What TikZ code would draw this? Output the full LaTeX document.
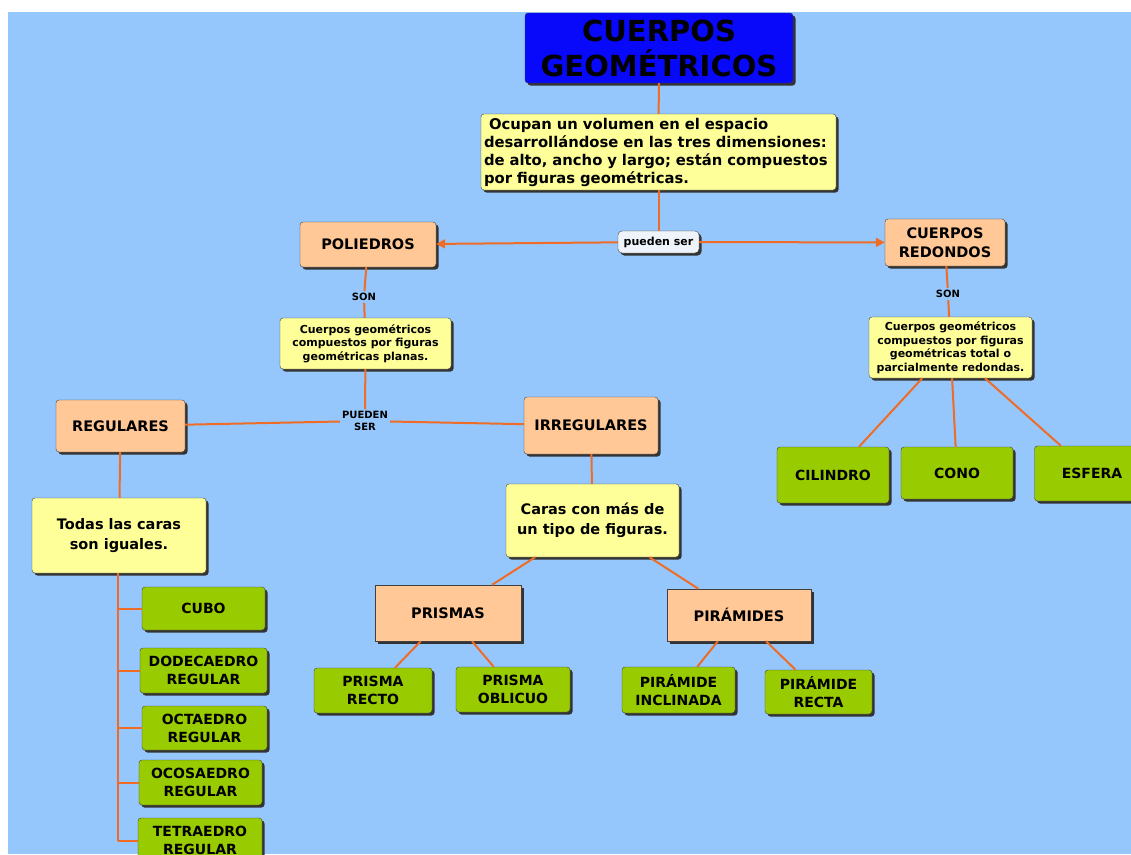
\documentclass[tikz,border=0pt]{standalone}
\usepackage{fontspec}
\setmainfont{DejaVu Sans}
\usetikzlibrary{arrows.meta,shadows}

\definecolor{fondo}{RGB}{150,199,252}
\definecolor{azul}{RGB}{8,8,250}
\definecolor{amarillo}{RGB}{255,255,153}
\definecolor{melocoton}{RGB}{255,200,150}
\definecolor{verde}{RGB}{153,204,0}
\definecolor{naranja}{RGB}{238,108,38}
\definecolor{nube}{RGB}{238,244,250}

\begin{document}
\begin{tikzpicture}[
        x=1pt, y=-1pt,
        medida/.style 2 args={minimum width=#1pt, minimum height=#2pt},
        caja/.style={draw=black!75, thin, rounded corners=3pt, align=center, inner sep=0pt,
            drop shadow={shadow xshift=2.5pt, shadow yshift=-2.5pt, fill=black!80, opacity=1}},
        caja_titulo/.style={caja, fill=azul, font=\fontsize{29}{35}\selectfont\bfseries},
        caja_texto/.style={caja, fill=amarillo},
        caja_tipo/.style={caja, fill=melocoton, font=\fontsize{14.5}{19}\selectfont\bfseries},
        caja_cuerpo/.style={caja, fill=verde, font=\fontsize{14}{18}\selectfont\bfseries},
        caja_enlace/.style={caja, fill=nube, rounded corners=4pt, font=\fontsize{11}{13}\selectfont\bfseries},
        etiqueta/.style={align=center, inner sep=2pt, font=\fontsize{10}{12}\selectfont\bfseries},
        linea/.style={draw=naranja, line width=2pt},
        flecha/.style={linea, -{Triangle[length=9pt, width=9pt]}}
        ]
    \useasboundingbox (0,0) rectangle (1131,854);
    \clip (0,0) rectangle (1131,854);
    \fill[fondo] (8,12) rectangle (1131,854);

    % cabecera
    \node[caja_titulo, medida={268}{70}] (titulo) at (659,48) {CUERPOS\\GEOMÉTRICOS};
    \node[caja_texto, medida={355}{76}, text width=349pt, align=left, font=\fontsize{14.8}{18}\selectfont\bfseries]
        (descr) at (658.5,152) {\hspace*{5pt}Ocupan un volumen en el espacio\\desarrollándose en las tres dimensiones:\\de alto, ancho y largo; están compuestos\\por figuras geométricas.};
    \node[caja_enlace, medida={81}{22}] (pueden) at (658.5,242) {pueden ser};

    % poliedros
    \node[caja_tipo, medida={136}{45}] (poliedros) at (368,244.5) {POLIEDROS};
    \node[etiqueta] (son_poli) at (364,297) {SON};
    \node[caja_texto, medida={171}{51}, font=\fontsize{11}{13.5}\selectfont\bfseries]
        (desc_poli) at (365.5,343.5) {Cuerpos geométricos\\compuestos por figuras\\geométricas planas.};
    \node[etiqueta] (pueden_poli) at (365,421) {PUEDEN\\SER};
    \node[caja_tipo, medida={129}{52}] (regulares) at (120.5,426) {REGULARES};
    \node[caja_tipo, medida={134}{57}] (irregulares) at (591,425.5) {IRREGULARES};

    \node[caja_texto, medida={174}{75}, font=\fontsize{14.5}{20}\selectfont\bfseries]
        (todas) at (119,535.5) {Todas las caras\\son iguales.};
    \node[caja_cuerpo, medida={123}{43}] (cubo) at (203.5,608.5) {CUBO};
    \node[caja_cuerpo, medida={127}{45}] (dodecaedro) at (203.5,670.5) {DODECAEDRO\\REGULAR};
    \node[caja_cuerpo, medida={125}{44}] (octaedro) at (204.5,728) {OCTAEDRO\\REGULAR};
    \node[caja_cuerpo, medida={123}{45}] (ocosaedro) at (200.5,782.5) {OCOSAEDRO\\REGULAR};
    \node[caja_cuerpo, medida={124}{45}] (tetraedro) at (200,840.5) {TETRAEDRO\\REGULAR};

    \node[caja_texto, medida={173}{73}, font=\fontsize{14.5}{20}\selectfont\bfseries]
        (caras) at (592.5,520.5) {Caras con más de\\un tipo de figuras.};
    \node[caja_tipo, sharp corners, medida={146}{56}] (prismas) at (448,613) {PRISMAS};
    \node[caja_tipo, sharp corners, medida={144}{52}] (piramides) at (739,615) {PIRÁMIDES};
    \node[caja_cuerpo, medida={118}{45}] (prisma_recto) at (373,690.5) {PRISMA\\RECTO};
    \node[caja_cuerpo, medida={114}{45}] (prisma_oblicuo) at (513,689.5) {PRISMA\\OBLICUO};
    \node[caja_cuerpo, medida={113}{46}] (piramide_incl) at (678.5,690) {PIRÁMIDE\\INCLINADA};
    \node[caja_cuerpo, medida={107}{44}] (piramide_recta) at (818.5,692) {PIRÁMIDE\\RECTA};

    % cuerpos redondos
    \node[caja_tipo, medida={120}{47}] (redondos) at (945,242.5) {CUERPOS\\REDONDOS};
    \node[etiqueta] (son_red) at (948,294) {SON};
    \node[caja_texto, medida={163}{61}, font=\fontsize{11}{13.5}\selectfont\bfseries]
        (desc_red) at (950.5,347.5) {Cuerpos geométricos\\compuestos por figuras\\geométricas total o\\parcialmente redondas.};
    \node[caja_cuerpo, medida={112}{56}] (cilindro) at (833,475) {CILINDRO};
    \node[caja_cuerpo, medida={112}{52}] (cono) at (957,473) {CONO};
    \node[caja_cuerpo, medida={115}{55}] (esfera) at (1092,473.5) {ESFERA};

    % conectores
    \draw[linea] (titulo) -- (descr);
    \draw[linea] (descr) -- (pueden);
    \draw[flecha] (pueden) -- (poliedros);
    \draw[flecha] (pueden) -- (redondos);
    \draw[linea] (poliedros) -- (son_poli) -- (desc_poli) -- (pueden_poli);
    \draw[linea] (pueden_poli) -- (regulares);
    \draw[linea] (pueden_poli) -- (irregulares);
    \draw[linea] (regulares) -- (todas);
    \coordinate (bus) at (118,840.5);
    \draw[linea, line width=2.5pt] (todas.south -| bus) -- (bus);
    \foreach \n in {cubo, dodecaedro, octaedro, ocosaedro, tetraedro}
        \draw[linea] (\n.west -| bus) -- (\n.west);
    \draw[linea] (irregulares) -- (caras);
    \draw[linea] (caras) -- (prismas);
    \draw[linea] (caras) -- (piramides);
    \draw[linea] (prismas) -- (prisma_recto);
    \draw[linea] (prismas) -- (prisma_oblicuo);
    \draw[linea] (piramides) -- (piramide_incl);
    \draw[linea] (piramides) -- (piramide_recta);
    \draw[linea] (redondos) -- (son_red) -- (desc_red);
    \draw[linea] (desc_red) -- (cilindro);
    \draw[linea] (desc_red) -- (cono);
    \draw[linea] (desc_red) -- (esfera);
\end{tikzpicture}
\end{document}
